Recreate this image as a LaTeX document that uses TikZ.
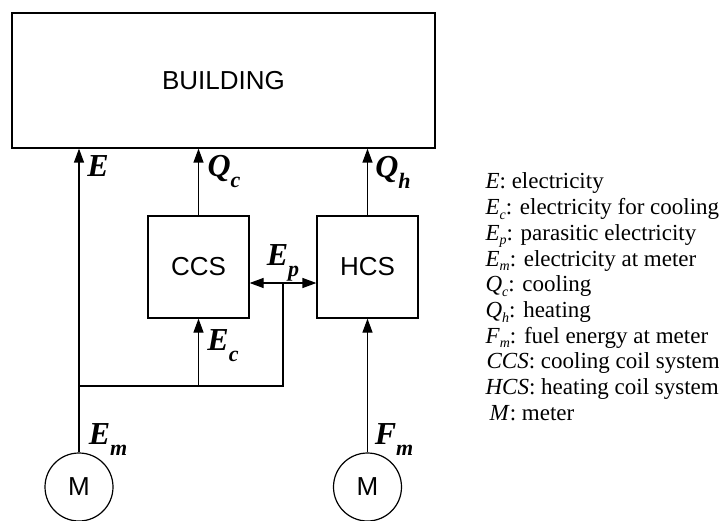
\documentclass[tikz,border=0pt]{standalone}
\usepackage{fontspec}
\setmainfont{Liberation Serif}
\setsansfont{Liberation Sans}
\usetikzlibrary{arrows.meta}

\newcommand{\flowlbl}[2]{#1\raisebox{-11pt}{\fontsize{22}{22}\selectfont #2}}
\newcommand{\legsub}[2]{\textit{#1}\raisebox{-4.5pt}{\fontsize{14}{14}\selectfont\textit{#2}}}

\begin{document}
\begin{tikzpicture}[x=1pt,y=-1pt,>={Triangle[length=14pt,width=10pt]},line width=1.2pt,
  every node/.append style={font=\sffamily\fontsize{26}{26}\selectfont},
  blockbox/.style={draw,inner sep=0pt},
  meter/.style={draw,circle,minimum size=68pt,inner sep=0pt},
  flow/.style={inner sep=0pt,font=\rmfamily\bfseries\itshape\fontsize{32}{32}\selectfont},
  legend/.style={anchor=base west,inner sep=0pt,font=\rmfamily\fontsize{23}{23}\selectfont}]
  \useasboundingbox (0,0) rectangle (719,521);

  % blocks
  \node[blockbox,minimum width=423pt,minimum height=135pt] (bld) at (223.5,80.5) {BUILDING};
  \node[blockbox,minimum width=101pt,minimum height=102pt] (ccs) at (198.5,267) {CCS};
  \node[blockbox,minimum width=101pt,minimum height=102pt] (hcs) at (367.5,267) {HCS};
  \node[meter] (mE) at (79,487) {M};
  \node[meter] (mF) at (367.5,487) {M};

  % junctions of the electricity lines
  \coordinate (ep) at (283,283);
  \coordinate (jr) at (283,386);
  \coordinate (jl) at (79,386);

  \draw[->] (mE.north) -- (mE |- bld.south);
  \draw[->] (ccs.north) -- (ccs |- bld.south);
  \draw[->] (hcs.north) -- (hcs |- bld.south);
  \draw[<->] (ccs.east |- ep) -- (hcs.west |- ep);
  \draw (ep) -- (jr) -- (jl);
  \draw[->] (ccs |- jr) -- (ccs.south);
  \draw[->] (mF.north) -- (hcs.south);

  % flow labels
  \node[flow] (lE) at (98,166) {E};
  \node[flow] (lQc) at (224,172) {\flowlbl{Q}{c}};
  \node[flow] (lQh) at (393,172) {\flowlbl{Q}{h}};
  \node[flow] (lEp) at (283,263) {\flowlbl{E}{p}};
  \node[flow] (lEc) at (223,346) {\flowlbl{E}{c}};
  \node[flow] (lEm) at (108,440) {\flowlbl{E}{m}};
  \node[flow] (lFm) at (394,440) {\flowlbl{F}{m}};

  % legend
  \node[legend] (leg1) at (485,189) {\textit{E}: electricity};
  \node[legend] (leg2) at (485,214.7) {\legsub{E}{c}: electricity for cooling};
  \node[legend] (leg3) at (485,240.4) {\legsub{E}{p}: parasitic electricity};
  \node[legend] (leg4) at (485,266.1) {\legsub{E}{m}: electricity at meter};
  \node[legend] (leg5) at (485,291.8) {\legsub{Q}{c}: cooling};
  \node[legend] (leg6) at (485,317.5) {\legsub{Q}{h}: heating};
  \node[legend] (leg7) at (485,343.2) {\legsub{F}{m}: fuel energy at meter};
  \node[legend] (leg8) at (486,368.9) {\textit{CCS}: cooling coil system};
  \node[legend] (leg9) at (485,394.6) {\textit{HCS}: heating coil system};
  \node[legend] (leg10) at (489,420.3) {\textit{M}: meter};
\end{tikzpicture}
\end{document}
